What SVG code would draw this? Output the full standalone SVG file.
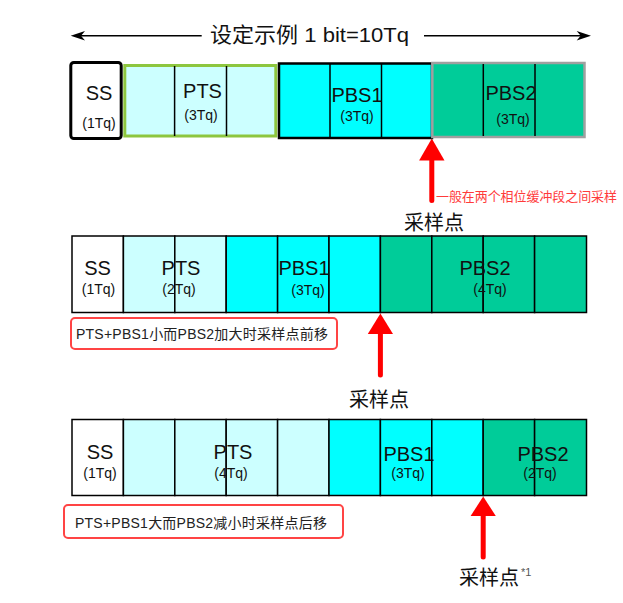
<svg xmlns="http://www.w3.org/2000/svg" width="623" height="603" viewBox="0 0 623 603">
<defs>
<style>
text{font-family:"Liberation Sans","Noto Sans CJK SC",sans-serif;fill:#111}
.lab{font-size:20px;text-anchor:middle}
.sub{font-size:14px;text-anchor:middle}
.cjk{font-family:"Noto Sans CJK SC",sans-serif;font-size:20px}
.note{font-size:14px;fill:#222}
.c0{fill:#ffffff;stroke:#000;stroke-width:1.5}
.c1{fill:#ccffff;stroke:#000;stroke-width:1.5}
.c2{fill:#00ffff;stroke:#000;stroke-width:1.5}
.c3{fill:#00cc99;stroke:#000;stroke-width:1.5}
.div{stroke:#000;stroke-width:1.5}
.box{fill:#fff;stroke:#ff4444;stroke-width:2}
.shaft{stroke:#ff0000;stroke-width:5;stroke-linecap:round}
.head{fill:#ff0000}
</style>
</defs>
<rect width="623" height="603" fill="#fff"/>

<g id="connectors">
<line x1="74" y1="35.7" x2="201.7" y2="35.7" stroke="#000" stroke-width="1.5"/>
<polygon points="70.7,35.7 85,31 81,35.7 85,40.4" fill="#000"/>
<line x1="424" y1="35.7" x2="587" y2="35.7" stroke="#000" stroke-width="1.5"/>
<polygon points="591,35.7 576.7,31 580.7,35.7 576.7,40.4" fill="#000"/>
<g id="arrow1">
<line class="shaft" x1="431.8" y1="156" x2="431.8" y2="200.5"/>
<polygon class="head" points="431.8,138.5 444.5,160.5 419.1,160.5"/>
</g>
<g id="arrow2">
<line class="shaft" x1="380.4" y1="330" x2="380.4" y2="375"/>
<polygon class="head" points="380.4,313.5 393,334 367.8,334"/>
</g>
<g id="arrow3">
<line class="shaft" x1="483.2" y1="512" x2="483.2" y2="557"/>
<polygon class="head" points="483.2,496.5 495.8,516 470.6,516"/>
</g>
</g>

<text id="title" x="210" y="42" style="font-size:21px" textLength="199" lengthAdjust="spacingAndGlyphs">设定示例 1 bit=10Tq</text>

<!-- Row 1 -->
<g id="r1-ss">
<rect x="70.8" y="62.5" width="50.4" height="76" rx="3" fill="#fff" stroke="#000" stroke-width="3"/>
<text class="lab" x="99" y="100">SS</text>
<text class="sub" x="99" y="128">(1Tq)</text>
</g>
<g id="r1-pts">
<rect x="124.8" y="65.5" width="151" height="70.5" fill="#ccffff" stroke="#8dc63f" stroke-width="3"/>
<line class="div" x1="174.6" y1="66" x2="174.6" y2="136"/>
<line class="div" x1="226.5" y1="66" x2="226.5" y2="136"/>
<text class="lab" x="202.5" y="98">PTS</text>
<text class="sub" x="201" y="120">(3Tq)</text>
</g>
<g id="r1-pbs1">
<rect x="279" y="63.5" width="153" height="74.5" fill="#00ffff" stroke="#000" stroke-width="2.5"/>
<line class="div" x1="330" y1="64" x2="330" y2="138"/>
<line class="div" x1="381.5" y1="64" x2="381.5" y2="138"/>
<text class="lab" x="357" y="102">PBS1</text>
<text class="sub" x="357" y="121">(3Tq)</text>
</g>
<g id="r1-pbs2">
<rect x="432.3" y="63" width="152.2" height="74" fill="#00cc99" stroke="#a0a0a0" stroke-width="2.5"/>
<line class="div" x1="483.3" y1="64" x2="483.3" y2="136"/>
<line class="div" x1="535" y1="64" x2="535" y2="136"/>
<text class="lab" x="511" y="100">PBS2</text>
<text class="sub" x="513" y="124">(3Tq)</text>
</g>

<text id="note1" x="436" y="201" style="font-size:13px;fill:#ff3b3b" textLength="181">一般在两个相位缓冲段之间采样</text>
<text id="sp1" class="cjk" x="404" y="229.5">采样点</text>

<!-- Row 2 -->
<g id="r2-ss">
<rect class="c0" x="72" y="236" width="51.4" height="76.5"/>
<text class="lab" x="97.5" y="275">SS</text>
<text class="sub" x="98.5" y="294">(1Tq)</text>
</g>
<g id="r2-pts">
<rect class="c1" x="123.4" y="236" width="51.4" height="76.5"/>
<rect class="c1" x="174.8" y="236" width="51.4" height="76.5"/>
<text class="lab" x="181" y="275">PTS</text>
<text class="sub" x="179" y="294">(2Tq)</text>
</g>
<g id="r2-pbs1">
<rect class="c2" x="226.2" y="236" width="51.4" height="76.5"/>
<rect class="c2" x="277.6" y="236" width="51.4" height="76.5"/>
<rect class="c2" x="329" y="236" width="51.4" height="76.5"/>
<text class="lab" x="304" y="275">PBS1</text>
<text class="sub" x="308" y="295">(3Tq)</text>
</g>
<g id="r2-pbs2">
<rect class="c3" x="380.4" y="236" width="51.4" height="76.5"/>
<rect class="c3" x="431.8" y="236" width="51.4" height="76.5"/>
<rect class="c3" x="483.2" y="236" width="51.4" height="76.5"/>
<rect class="c3" x="534.6" y="236" width="51.9" height="76.5"/>
<text class="lab" x="485" y="275">PBS2</text>
<text class="sub" x="490" y="294">(4Tq)</text>
</g>
<g id="r2-note">
<rect class="box" x="71" y="318" width="266" height="31" rx="4"/>
<text class="note" x="76" y="338.5" textLength="252">PTS+PBS1小而PBS2加大时采样点前移</text>
</g>
<text id="sp2" class="cjk" x="349" y="406.5">采样点</text>

<!-- Row 3 -->
<g id="r3-ss">
<rect class="c0" x="72" y="419.5" width="51.4" height="76"/>
<text class="lab" x="100" y="459">SS</text>
<text class="sub" x="100" y="478">(1Tq)</text>
</g>
<g id="r3-pts">
<rect class="c1" x="123.4" y="419.5" width="51.4" height="76"/>
<rect class="c1" x="174.8" y="419.5" width="51.4" height="76"/>
<rect class="c1" x="226.2" y="419.5" width="51.4" height="76"/>
<rect class="c1" x="277.6" y="419.5" width="51.4" height="76"/>
<text class="lab" x="233" y="459">PTS</text>
<text class="sub" x="231" y="478">(4Tq)</text>
</g>
<g id="r3-pbs1">
<rect class="c2" x="329" y="419.5" width="51.4" height="76"/>
<rect class="c2" x="380.4" y="419.5" width="51.4" height="76"/>
<rect class="c2" x="431.8" y="419.5" width="51.4" height="76"/>
<text class="lab" x="409" y="461">PBS1</text>
<text class="sub" x="408" y="478">(3Tq)</text>
</g>
<g id="r3-pbs2">
<rect class="c3" x="483.2" y="419.5" width="51.4" height="76"/>
<rect class="c3" x="534.6" y="419.5" width="51.9" height="76"/>
<text class="lab" x="543" y="461">PBS2</text>
<text class="sub" x="540" y="478">(2Tq)</text>
</g>
<g id="r3-note">
<rect class="box" x="64" y="505" width="279" height="33" rx="4"/>
<text class="note" x="75" y="528" textLength="252">PTS+PBS1大而PBS2减小时采样点后移</text>
</g>
<text id="sp3" x="459" y="584.5"><tspan class="cjk">采样点</tspan><tspan dx="2" dy="-9" style="font-size:11px;fill:#555">*1</tspan></text>
</svg>
